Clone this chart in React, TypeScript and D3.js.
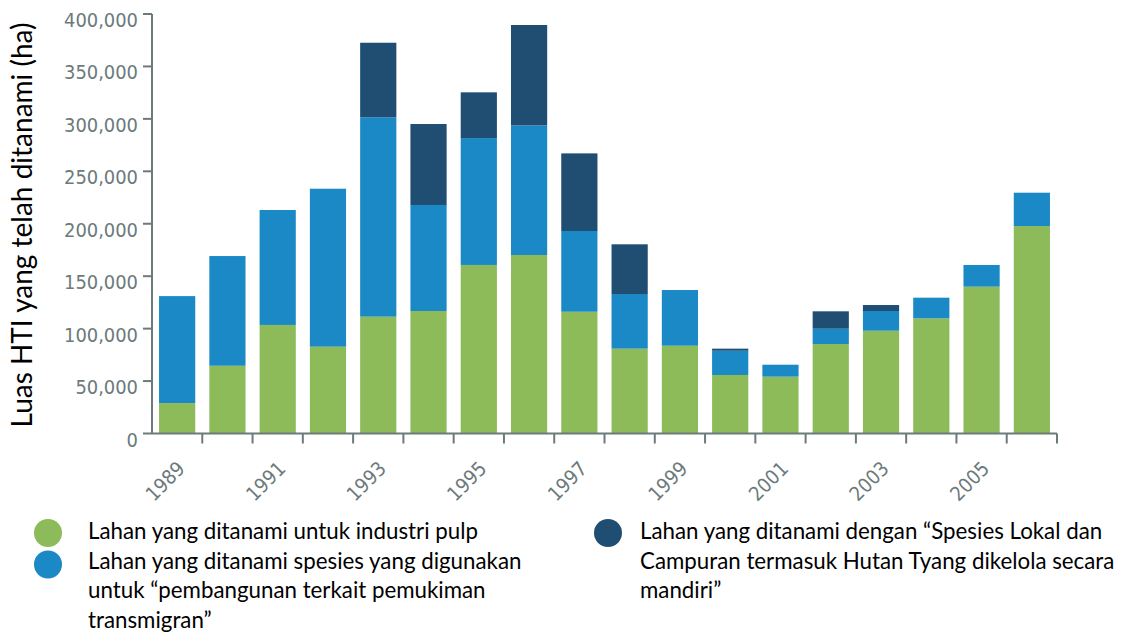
import React from 'react';
import * as d3 from 'd3';

const years = ['1989','1990','1991','1992','1993','1994','1995','1996','1997','1998','1999','2000','2001','2002','2003','2004','2005','2006'];
const pulp = [29000, 64600, 103500, 82800, 111400, 116800, 160700, 170200, 116100, 80900, 83700, 55800, 54200, 85300, 98000, 109800, 140000, 197800];
const transmigran = [102000, 104600, 109600, 150600, 190100, 101100, 121000, 123600, 77000, 52100, 53100, 23100, 11400, 14600, 18800, 19700, 20700, 31800];
const lokal = [0, 0, 0, 0, 71100, 77200, 43600, 95700, 74000, 47400, 0, 2000, 0, 16600, 5700, 0, 0, 0];
const yTicks = [0, 50000, 100000, 150000, 200000, 250000, 300000, 350000, 400000];
const xLabelYears = ['1989','1991','1993','1995','1997','1999','2001','2003','2005'];
const seriesKeys = ['pulp', 'transmigran', 'lokal'];
const seriesColors = ['#8dbb5a', '#1a89c5', '#1f4e72'];
const yTitle = 'Luas HTI yang telah ditanami (ha)';
const legendLeft = [
  { key: 'pulp', lines: ['Lahan yang ditanami untuk industri pulp'] },
  { key: 'transmigran', lines: ['Lahan yang ditanami spesies yang digunakan', 'untuk \u201cpembangunan terkait pemukiman', 'transmigran\u201d'] },
];
const legendRight = [
  { key: 'lokal', lines: ['Lahan yang ditanami dengan \u201cSpesies Lokal dan', 'Campuran termasuk Hutan Tyang dikelola secara', 'mandiri\u201d'] },
];

const axisColor = '#6c7a7b';
const tickFont = '"DejaVu Sans Condensed", "DejaVu Sans", sans-serif';
const textFont = 'Lato, "Open Sans", sans-serif';

export default function App() {
  const rows = years.map((y, i) => ({ year: y, pulp: pulp[i], transmigran: transmigran[i], lokal: lokal[i] }));
  const stacked = d3.stack<any>().keys(seriesKeys)(rows);
  const x = d3.scaleBand<string>().domain(years).range([152, 1057]).paddingInner(0.28).paddingOuter(0.14);
  const y = d3.scaleLinear().domain([0, 400000]).range([433.5, 14]);
  const color = d3.scaleOrdinal<string, string>().domain(seriesKeys).range(seriesColors);
  const step = x.step();
  const bw = x.bandwidth();
  const x0 = x.range()[0];
  const x1 = x.range()[1];
  const y0 = y(0);

  const lineH = 29.5;
  const legendBase = 539;
  const legendSize = 22.3;

  return (
    <svg width={1125} height={637} style={{ position: 'absolute', left: 0, top: 0, background: '#fff' }}>
      {stacked.map((s) => (
        <g key={s.key} fill={color(s.key)}>
          {s.map((d, i) => {
            const h = y(d[0]) - y(d[1]);
            if (h <= 0) return null;
            return <rect key={i} x={x(years[i])} y={y(d[1])} width={bw} height={h} />;
          })}
        </g>
      ))}
      {/* y axis */}
      <line x1={x0} x2={x0} y1={y(400000)} y2={y0} stroke={axisColor} strokeWidth={2} />
      {yTicks.map((t) => (
        <g key={t}>
          <line x1={x0 - 9} x2={x0} y1={y(t)} y2={y(t)} stroke={axisColor} strokeWidth={2} />
          <text x={138} y={y(t) + 13} textAnchor="end" fontFamily={tickFont} fontSize={19.9} fill={axisColor}>
            {d3.format(',')(t)}
          </text>
        </g>
      ))}
      {/* x axis */}
      <line x1={x0} x2={x1} y1={y0} y2={y0} stroke={axisColor} strokeWidth={2} />
      {years.map((yr) => {
        const tx = (x(yr) as number) + bw + (step - bw) / 2;
        return <line key={yr} x1={tx} x2={tx} y1={y0} y2={y0 + 10} stroke={axisColor} strokeWidth={2} />;
      })}
      {xLabelYears.map((yr) => {
        const cx = (x(yr) as number) + bw / 2 + 9;
        return (
          <text key={yr} transform={`translate(${cx},470) rotate(-45)`} textAnchor="end" fontFamily={tickFont} fontSize={19.9} fill={axisColor}>
            {yr}
          </text>
        );
      })}
      {/* y title */}
      <text transform={`translate(32,225) rotate(-90)`} textAnchor="middle" fontFamily={textFont} fontSize={28} fill="#000">
        {yTitle}
      </text>
      {/* legend */}
      {(() => {
        const out: any[] = [];
        let line = 0;
        legendLeft.forEach((item) => {
          out.push(<circle key={'c' + item.key} cx={48} cy={legendBase - 6 + line * lineH + (line > 0 ? 2 : 0)} r={14} fill={color(item.key)} />);
          item.lines.forEach((l, j) => {
            out.push(
              <text key={item.key + j} x={88} y={legendBase + (line + j) * lineH} fontFamily={textFont} fontSize={legendSize} fill="#000">{l}</text>
            );
          });
          line += item.lines.length;
        });
        let line2 = 0;
        legendRight.forEach((item) => {
          out.push(<circle key={'c' + item.key} cx={608} cy={legendBase - 6 + line2 * lineH} r={14} fill={color(item.key)} />);
          item.lines.forEach((l, j) => {
            out.push(
              <text key={item.key + j} x={640} y={legendBase + (line2 + j) * lineH} fontFamily={textFont} fontSize={legendSize} fill="#000">{l}</text>
            );
          });
          line2 += item.lines.length;
        });
        return out;
      })()}
    </svg>
  );
}
